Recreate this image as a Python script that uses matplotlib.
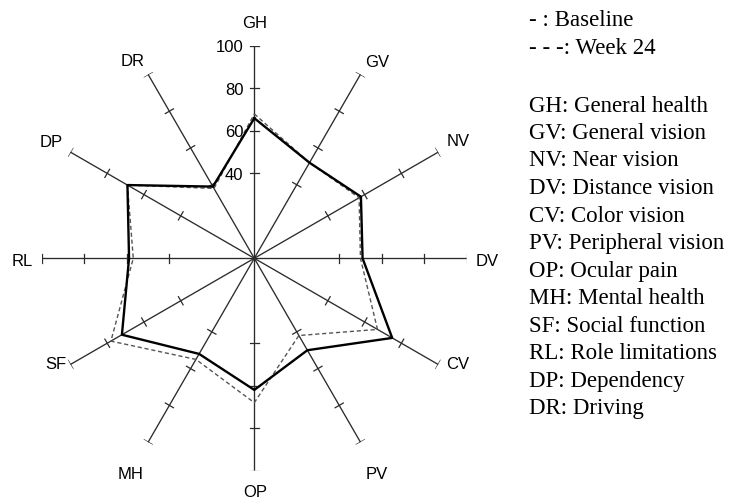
import matplotlib
matplotlib.use("Agg")
import matplotlib.pyplot as plt
import numpy as np

# axes, clockwise from the top
labels = ["GH", "GV", "NV", "DV", "CV", "PV", "OP", "MH", "SF", "RL", "DP", "DR"]
baseline = [66, 52, 58, 51, 75, 50, 62, 52, 72, 59, 69, 39]
week24 = [68, 52, 57, 50, 67, 42, 68, 55, 78, 57, 69, 38]
r_ticks = [40, 60, 80, 100]

legend_head = ["- : Baseline", "- - -: Week 24"]
legend_names = ["GH: General health", "GV: General vision", "NV: Near vision",
                "DV: Distance vision", "CV: Color vision", "PV: Peripheral vision",
                "OP: Ocular pain", "MH: Mental health", "SF: Social function",
                "RL: Role limitations", "DP: Dependency", "DR: Driving"]

# label offsets from the axis end, in pixels (x right, y up)
label_off = [(0, 23), (17, 12), (20, 11), (21, -3), (20, 0), (16, -32),
             (1, -22), (-18, -32), (-15, 0), (-20, -3), (-19, 10), (-16, 13)]

W, H = 738, 499
fig = plt.figure(figsize=(W / 100, H / 100), dpi=100)
cx, cy, R = 254.3, 258.3, 212.3
ax = fig.add_axes([(cx - R) / W, (H - cy - R) / H, 2 * R / W, 2 * R / H], projection="polar")
ax.set_theta_zero_location("N")
ax.set_theta_direction(-1)
ax.set_ylim(0, 100)
ax.grid(False)
ax.spines["polar"].set_visible(False)
ax.set_xticks([])
ax.set_yticks([])
ax.patch.set_alpha(0)

n = len(labels)
theta = np.arange(n) * 2 * np.pi / n

# spokes with small perpendicular ticks
half = 4.7 / R * 100
for t in theta:
    ax.plot([t, t], [0, 100], color="#2b2b2b", lw=0.95, zorder=1)
    for r in r_ticks:
        da = np.arctan(half / r)
        rr = np.hypot(r, half)
        ax.plot([t - da, t + da], [rr, rr], color="#2b2b2b", lw=0.9, zorder=1)

th = np.append(theta, theta[0])
ax.plot(th, week24 + week24[:1], color="#555555", lw=1.0, dashes=(3, 2), zorder=2)
ax.plot(th, baseline + baseline[:1], color="black", lw=1.7, zorder=3)

sans = ["Liberation Sans", "DejaVu Sans"]
for t, lab, off in zip(theta, labels, label_off):
    ax.annotate(lab, xy=(t, 100), xytext=off, textcoords="offset pixels",
                ha="center", va="center", fontsize=12, family=sans,
                annotation_clip=False)

for r in r_ticks:
    ax.annotate(str(r), xy=(0, r), xytext=(-11, -2), textcoords="offset pixels",
                ha="right", va="center", fontsize=12, family=sans,
                annotation_clip=False)

serif = ["Liberation Serif", "DejaVu Serif"]
lx = 529 / W
for i, s in enumerate(legend_head):
    fig.text(lx, 1 - (26.5 + i * 27.5) / H, s, ha="left", va="baseline",
             fontsize=16.5, family=serif)
for i, s in enumerate(legend_names):
    fig.text(lx, 1 - (111.5 + i * 27.5) / H, s, ha="left", va="baseline",
             fontsize=16.5, family=serif)

fig.savefig("out.png", dpi=100)
